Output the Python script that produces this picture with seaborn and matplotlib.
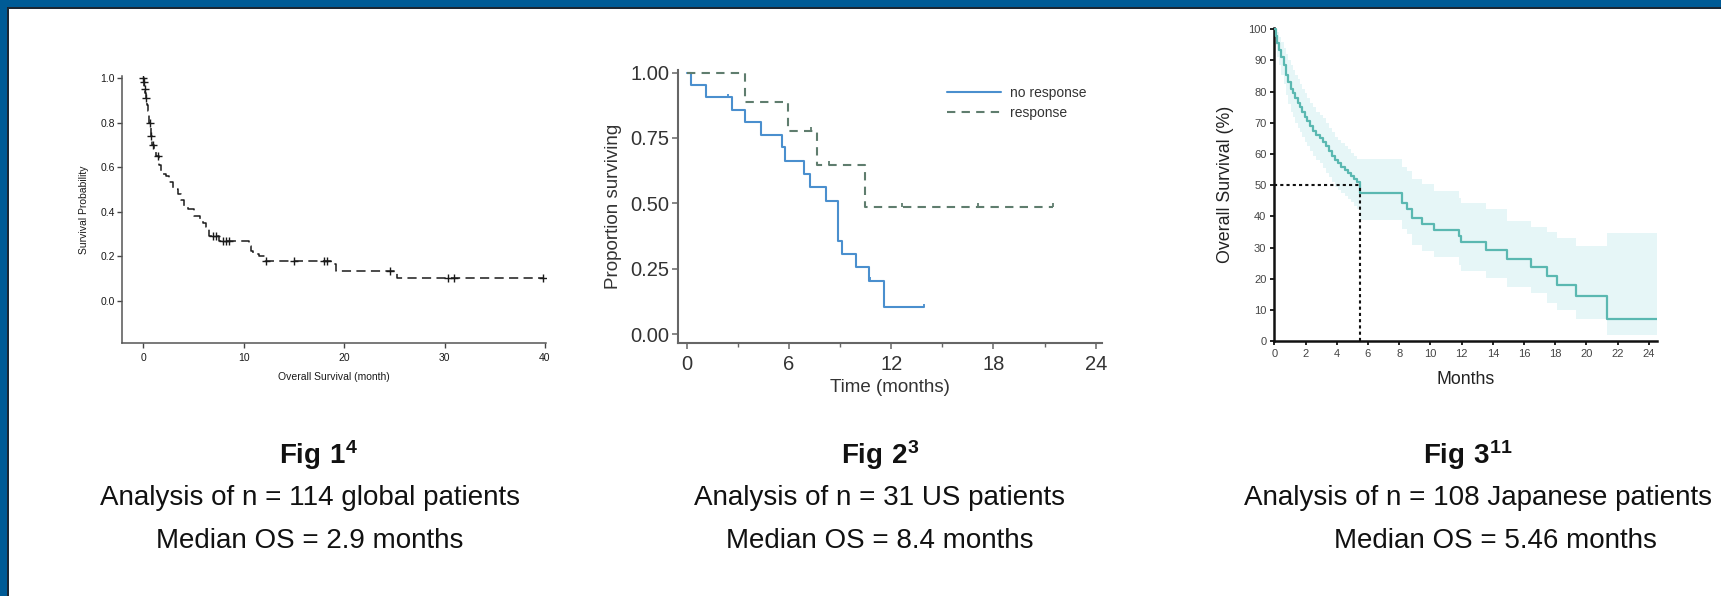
import numpy as np
import matplotlib
matplotlib.use("Agg")
import matplotlib.pyplot as plt
import seaborn as sns
from matplotlib.patches import Rectangle
from matplotlib.path import Path
from matplotlib.ticker import MultipleLocator

# ---------------- data ----------------
# Fig 1: global patients (step KM curve)
p1_time = [0, 0.05, 0.12, 0.2, 0.3, 0.4, 0.5, 0.6, 0.75, 0.9, 1.1, 1.3, 1.6, 1.8,
           2.3, 2.6, 3.0, 3.5, 3.8, 4.1, 4.5, 5.1, 5.7, 6.0, 6.3, 6.6, 7.6,
           10.5, 10.7, 10.9, 11.5, 12.1, 18.7, 19.2, 25.3]
p1_surv = [1.0, 0.98, 0.95, 0.935, 0.91, 0.88, 0.85, 0.80, 0.74, 0.70, 0.68, 0.65, 0.61, 0.57,
           0.56, 0.535, 0.50, 0.48, 0.45, 0.42, 0.41, 0.38, 0.36, 0.35, 0.33, 0.29, 0.27,
           0.245, 0.225, 0.21, 0.20, 0.18, 0.165, 0.135, 0.10]
p1_cens = [0.02, 0.07, 0.15, 0.32, 0.65, 0.8, 1.0, 1.45, 7.0, 7.3, 8.0, 8.3, 8.5,
           12.2, 15.0, 18.0, 18.3, 24.6, 30.3, 30.9, 39.8]
p1_xticks = [0, 10, 20, 30, 40]
p1_yticks = [0.0, 0.2, 0.4, 0.6, 0.8, 1.0]

# Fig 2: US patients by response
nr_time = [0, 0.24, 1.17, 2.65, 3.45, 4.36, 5.58, 5.78, 6.89, 7.27, 8.2, 8.87, 9.09, 9.96, 10.7, 11.56]
nr_surv = [1.0, 0.952, 0.905, 0.857, 0.810, 0.762, 0.714, 0.663, 0.612, 0.561, 0.510, 0.357,
           0.306, 0.255, 0.204, 0.102]
nr_cens = [2.42, 10.78, 13.94]
r_time = [0, 3.45, 5.94, 7.64, 10.48]
r_surv = [1.0, 0.889, 0.778, 0.648, 0.486]
r_cens = [7.3, 8.36, 12.63, 17.1, 21.5]
p2_labels = ["no response", "response"]
p2_xticks = [0, 6, 12, 18, 24]
p2_yticks = [0.0, 0.25, 0.50, 0.75, 1.00]

# Fig 3: Japanese patients, OS (%) with confidence band
p3_time = [0, 0.1, 0.2, 0.3, 0.45, 0.6, 0.75, 0.9, 1.05, 1.2, 1.35, 1.5, 1.65, 1.8, 1.95,
           2.1, 2.3, 2.5, 2.7, 2.9, 3.1, 3.3, 3.5, 3.7, 3.9, 4.1, 4.3, 4.5, 4.7, 4.9,
           5.1, 5.3, 5.46, 8.19, 8.5, 8.85, 9.47, 10.25, 11.83, 11.94, 13.58, 14.9,
           16.46, 17.49, 18.09, 19.34, 21.29]
p3_surv = [100, 98, 95.5, 93.5, 91, 88.5, 85.5, 83, 81, 79.5, 78, 76.5, 75, 73.5, 72,
           70.5, 69, 67.5, 66, 65, 64, 62.5, 61, 59.5, 58, 57, 56, 55, 54, 53,
           52, 51, 47.6, 44.3, 42.5, 39.6, 37.6, 35.8, 33.8, 31.7, 29.2, 26.5,
           23.8, 21.0, 18.0, 14.5, 7.3]
p3_upper = [100, 100, 99, 97.5, 96, 94, 92, 90, 88.5, 87, 85.5, 84, 82.5, 81, 79.5,
            78, 76.5, 75, 73.5, 72.5, 71.5, 70, 68.5, 67, 65.5, 64.5, 63.5, 62.5, 61.5, 60.5,
            59.5, 58.5, 58.3, 56.0, 54.5, 52.0, 50.5, 48.3, 46.0, 44.4, 42.3, 38.7,
            36.5, 35.1, 33.0, 30.6, 34.8]
p3_lower = [100, 95, 91, 88.5, 85.5, 82.5, 79, 76, 73.5, 72, 70, 68.5, 67, 65.5, 64,
            62.5, 61, 59.5, 58, 57, 55.5, 54, 52.5, 51, 49.5, 48.5, 47.5, 46.5, 45.5, 44.5,
            43.5, 42.5, 38.9, 35.9, 34.5, 31.0, 29.0, 26.9, 24.5, 22.6, 20.4, 17.5,
            15.4, 12.4, 10.0, 7.0, 2.0]
p3_end = 24.53
p3_median = 5.46
p3_xticks = list(range(0, 25, 2))
p3_yticks = list(range(0, 101, 10))

captions = [
    (r"$\mathbf{Fig\ 1^{4}}$", "Analysis of n = 114 global patients", "Median OS = 2.9 months"),
    (r"$\mathbf{Fig\ 2^{3}}$", "Analysis of n = 31 US patients", "Median OS = 8.4 months"),
    (r"$\mathbf{Fig\ 3^{11}}$", "Analysis of n = 108 Japanese patients", "Median OS = 5.46 months"),
]

# ---------------- style ----------------
sns.set_theme(style="ticks")
plt.rcParams["font.family"] = ["Liberation Sans", "DejaVu Sans"]
plt.rcParams["mathtext.fontset"] = "custom"
plt.rcParams["mathtext.rm"] = "Liberation Sans"
plt.rcParams["mathtext.bf"] = "Liberation Sans:bold"

W, H = 1721, 596
fig = plt.figure(figsize=(W / 100, H / 100), dpi=100)
fig.patch.set_facecolor("white")


def px_axes(l, t, r, b):
    return fig.add_axes([l / W, 1 - b / H, (r - l) / W, (b - t) / H])


def step_at(times, surv, q):
    idx = np.searchsorted(np.asarray(times), np.asarray(q), side="right") - 1
    return np.asarray(surv)[idx]


up_tick = Path([(0, 0), (0, 1)])

# ---------------- Fig 1 ----------------
ax1 = px_axes(122, 75.8, 546, 343)
x1 = p1_time + [p1_cens[-1]]
y1 = p1_surv + [p1_surv[-1]]
sns.lineplot(x=x1, y=y1, drawstyle="steps-post", color="#1a1a1a", linewidth=1.1,
             linestyle=(0, (6, 3.5)), estimator=None, sort=False, ax=ax1)
sns.scatterplot(x=p1_cens, y=step_at(p1_time, p1_surv, p1_cens), marker="+", s=40,
                color="#1a1a1a", linewidth=1.0, ax=ax1, zorder=3)
ax1.set_xlim(-2.1, 40.1)
ax1.set_ylim(-0.19, 1.01)
ax1.set_xticks(p1_xticks)
ax1.set_yticks(p1_yticks)
ax1.set_yticklabels([f"{v:.1f}" for v in p1_yticks])
ax1.set_xlabel("Overall Survival (month)", fontsize=7.5, labelpad=6, color="#1a1a1a")
ax1.set_ylabel("Survival Probability", fontsize=7.5, labelpad=8, color="#1a1a1a")
ax1.tick_params(axis="y", labelsize=7.5, length=3.5, width=1, pad=1.8, colors="#444",
                labelcolor="#1a1a1a")
ax1.tick_params(axis="x", labelsize=7.5, length=3.5, width=1, pad=4, colors="#444",
                labelcolor="#1a1a1a")
sns.despine(ax=ax1)
for s in ("left", "bottom"):
    ax1.spines[s].set_color("#555")
    ax1.spines[s].set_linewidth(1.1)

# ---------------- Fig 2 ----------------
ax2 = px_axes(677.5, 70, 1101.7, 343.3)
c_nr, c_r = "#4a8fce", "#5f7d6e"
sns.lineplot(x=nr_time + [nr_cens[-1]], y=nr_surv + [nr_surv[-1]], drawstyle="steps-post",
             color=c_nr, linewidth=1.5, estimator=None, sort=False, ax=ax2, label=p2_labels[0])
sns.lineplot(x=r_time + [r_cens[-1]], y=r_surv + [r_surv[-1]], drawstyle="steps-post",
             color=c_r, linewidth=1.5, linestyle=(0, (4, 3)), estimator=None, sort=False,
             ax=ax2, label=p2_labels[1])
sns.scatterplot(x=nr_cens, y=step_at(nr_time, nr_surv, nr_cens), marker=up_tick, s=30,
                facecolor="none", edgecolor=c_nr, linewidth=1.3, ax=ax2, legend=False)
sns.scatterplot(x=r_cens, y=step_at(r_time, r_surv, r_cens), marker=up_tick, s=30,
                facecolor="none", edgecolor=c_r, linewidth=1.3, ax=ax2, legend=False)
ax2.set_xlim(-0.53, 24.35)
ax2.set_ylim(-0.035, 1.01)
ax2.set_xticks(p2_xticks)
ax2.xaxis.set_minor_locator(MultipleLocator(3))
ax2.set_yticks(p2_yticks)
ax2.set_yticklabels([f"{v:.2f}" for v in p2_yticks])
ax2.set_xlabel("Time (months)", fontsize=13.5, labelpad=3.5, color="#333")
ax2.set_ylabel("Proportion surviving", fontsize=13.5, labelpad=6, color="#333")
ax2.tick_params(which="major", axis="y", labelsize=14.5, length=4.5, width=1.1, pad=1.5,
                colors="#666", labelcolor="#333")
ax2.tick_params(which="major", axis="x", labelsize=14.5, length=4.5, width=1.1, pad=4,
                colors="#666", labelcolor="#333")
ax2.tick_params(which="minor", length=3, width=1.0, colors="#666")
sns.despine(ax=ax2)
for s in ("left", "bottom"):
    ax2.spines[s].set_color("#666")
    ax2.spines[s].set_linewidth(1.5)
leg = ax2.legend(loc="upper left", bbox_to_anchor=(946.7 / W, 1 - 86 / H),
                 bbox_transform=fig.transFigure, frameon=False, fontsize=10,
                 handlelength=3.9, handletextpad=0.63, labelspacing=0.4,
                 borderpad=0, borderaxespad=0)
for t in leg.get_texts():
    t.set_color("#333")

# ---------------- Fig 3 ----------------
ax3 = px_axes(1274.3, 27.7, 1656.7, 341.3)
c_os = "#5ab8b1"
tb = p3_time + [p3_end]
ax3.fill_between(tb, p3_lower + [p3_lower[-1]], p3_upper + [p3_upper[-1]], step="post",
                 color="#e6f6f7", linewidth=0, zorder=1)
sns.lineplot(x=tb, y=p3_surv + [p3_surv[-1]], drawstyle="steps-post", color=c_os,
             linewidth=1.6, estimator=None, sort=False, ax=ax3, zorder=3)
ax3.hlines(50, 0, p3_median, colors="#111", linestyles=(0, (1.5, 1.5)), linewidth=1.5, zorder=4)
ax3.vlines(p3_median, 0, 50, colors="#111", linestyles=(0, (1.5, 1.5)), linewidth=1.5, zorder=4)
ax3.set_xlim(0, 24.5)
ax3.set_ylim(0, 100.5)
ax3.set_xticks(p3_xticks)
ax3.set_yticks(p3_yticks)
ax3.set_xlabel("Months", fontsize=12.8, labelpad=8.5, color="#222")
ax3.set_ylabel("Overall Survival (%)", fontsize=12.8, labelpad=10, color="#222")
ax3.tick_params(labelsize=8, length=3.2, width=1.3, pad=2.5, colors="#111", labelcolor="#444")
sns.despine(ax=ax3)
for s in ("left", "bottom"):
    ax3.spines[s].set_color("#111")
    ax3.spines[s].set_linewidth(1.8)

# ---------------- captions ----------------
title_x = [319, 880, 1468]
line1_x = [310, 880, 1478]
line2_x = [310, 880, 1495]
for tx, l1x, l2x, (title, l1, l2) in zip(title_x, line1_x, line2_x, captions):
    fig.text(tx / W, 1 - 455 / H, title, ha="center", va="center", fontsize=20, color="#111")
    fig.text(l1x / W, 1 - 498 / H, l1, ha="center", va="center", fontsize=20, color="#111")
    fig.text(l2x / W, 1 - 541 / H, l2, ha="center", va="center", fontsize=20, color="#111")

# ---------------- frame ----------------
blue = "#005b96"
fig.patches.append(Rectangle((0, 1 - 7 / H), 1, 7 / H, transform=fig.transFigure,
                             facecolor=blue, edgecolor="none", zorder=10))
fig.patches.append(Rectangle((0, 1 - 8.5 / H), 1, 1.5 / H, transform=fig.transFigure,
                             facecolor="#1c2733", edgecolor="none", zorder=10))
fig.patches.append(Rectangle((0, 0), 7 / W, 1, transform=fig.transFigure,
                             facecolor=blue, edgecolor="none", zorder=10))
fig.patches.append(Rectangle((7 / W, 0), 1.5 / W, 1 - 7 / H, transform=fig.transFigure,
                             facecolor="#1c2733", edgecolor="none", zorder=10))

fig.savefig("out.png", dpi=100, facecolor="white")
